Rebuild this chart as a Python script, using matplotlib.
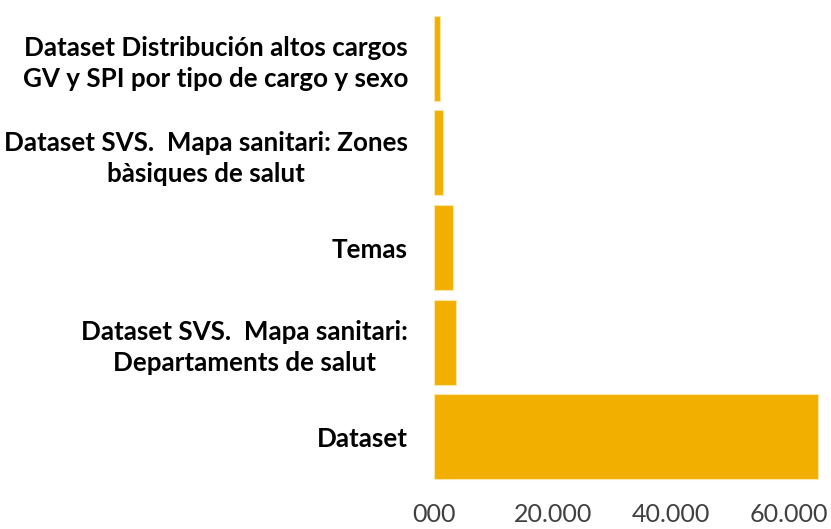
import matplotlib
matplotlib.use("Agg")
import matplotlib.pyplot as plt

# bottom-to-top order, as drawn
categories = [
    "Dataset",
    "Dataset SVS.  Mapa sanitari:\nDepartaments de salut",
    "Temas",
    "Dataset SVS.  Mapa sanitari: Zones\nbàsiques de salut",
    "Dataset Distribución altos cargos\nGV y SPI por tipo de cargo y sexo",
]
values = [64870, 3670, 3050, 1520, 965]

x_ticks = [0, 20000, 40000, 60000]
x_tick_labels = ["000", "20.000", "40.000", "60.000"]

BAR_COLOR = "#F2AF00"
FONT = ["Lato", "DejaVu Sans"]

fig = plt.figure(figsize=(8.31, 5.29), dpi=100)
ax = fig.add_axes([434.5 / 831, 45 / 529, 1 - 434.5 / 831, 473 / 529])

ax.barh(range(len(categories)), values, height=0.9, color=BAR_COLOR,
        edgecolor="#FCE6A8", linewidth=0.8)

ax.set_ylim(-0.5, len(categories) - 0.5)
ax.set_xlim(0, 396.5 / 118.2 * 20000)

ax.set_yticks(range(len(categories)))
ax.set_yticklabels(categories, fontsize=18.7, fontweight="bold",
                   family=FONT, color="black",
                   multialignment="center", linespacing=1.33)
ax.set_xticks(x_ticks)
ax.set_xticklabels(x_tick_labels, fontsize=18, family=FONT, color="#404040")

ax.tick_params(axis="y", length=0, pad=19)
ax.tick_params(axis="x", length=0, pad=14)
for s in ax.spines.values():
    s.set_visible(False)

fig.savefig("out.png", dpi=100)
